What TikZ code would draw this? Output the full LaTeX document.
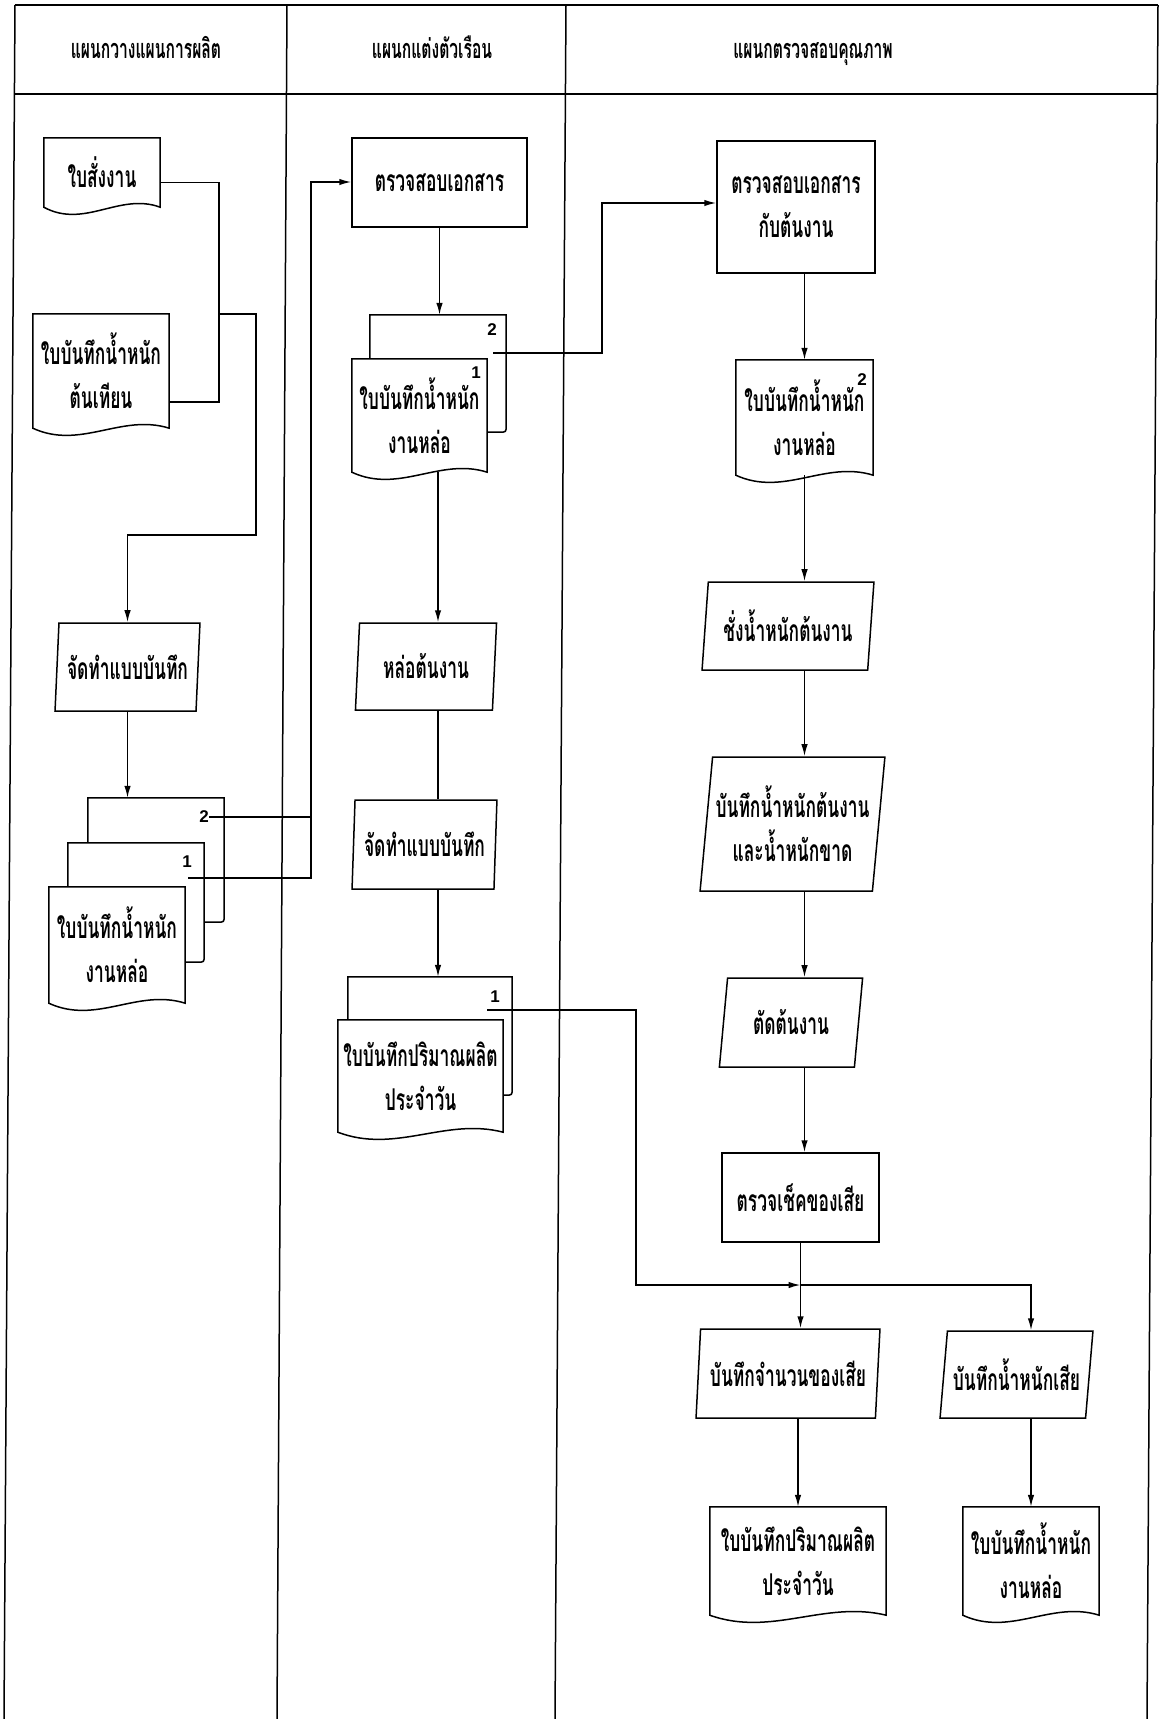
\documentclass[tikz,border=0pt]{standalone}
\usepackage{fontspec}
\usetikzlibrary{shapes.geometric,arrows.meta,calc}
\newfontfamily\thaifont[Script=Thai,FakeStretch=0.58]{Loma}
\newfontfamily\numfont{Liberation Sans}
\newcommand\DocOutline[1]{\draw[ln] (#1.north west) -- (#1.north east) -- (#1.south east) .. controls ($(#1.south east)!0.35!(#1.south west)+(0,-15)$) and ($(#1.south west)!0.35!(#1.south east)+(0,22)$) .. (#1.south west) -- cycle;}
\newcommand\BackPage[2]{\draw[ln] (#1.north west |- #2.north) -- (#1.north west) -- (#1.north east) -- ([yshift=7pt]#1.south east) .. controls (#1.south east) .. ([xshift=-7pt]#1.south east) -- (#1.south east -| #2.east);}
\begin{document}
\begin{tikzpicture}[x=1pt,y=-1pt,
  ln/.style={line width=1.5pt},
  arr/.style={ln,-{Latex[length=12pt,width=6.5pt]}},
  tx/.style={font=\thaifont\bfseries\fontsize{30}{44}\selectfont, align=center, inner sep=0pt, rectangle},
  hd/.style={font=\thaifont\bfseries\fontsize{27}{30}\selectfont, inner sep=0pt, anchor=base},
  bx/.style={tx, draw, ln},
  pg/.style={rectangle, draw=none, inner sep=0pt},
  para/.style 2 args={tx, draw, ln, trapezium, trapezium stretches=true, trapezium left angle=#1, trapezium right angle=#2},
  num/.style={font=\numfont\bfseries\fontsize{17}{17}\selectfont, inner sep=0pt}]
\useasboundingbox (0,0) rectangle (1160,1719);
% frame and lanes
\draw[ln] (15,5) -- (1158,5);
\draw[ln] (15,94) -- (1158,94);
\draw[ln] (15,5) -- (4,1719);
\draw[ln] (1158,5) -- (1147,1719);
\draw[ln] (287,5) -- (277,1719);
\draw[ln] (566,5) -- (555,1719);
\node[hd] (H1) at (146,58) {แผนกวางแผนการผลิต};
\node[hd] (H2) at (432,58) {แผนกแต่งตัวเรือน};
\node[hd] (H3) at (813,58) {แผนกตรวจสอบคุณภาพ};
% left lane
\node[tx, minimum width=116, minimum height=69] (L1) at (102,172.5) {ใบสั่งงาน};
\DocOutline{L1}
\node[tx, minimum width=136, minimum height=114] (L2) at (101,371) {ใบบันทึกน้ำหนัก\\ต้นเทียน};
\DocOutline{L2}
\node[para={82}{98}, minimum width=145, minimum height=88] (L3) at (127.5,667) {จัดทำแบบบันทึก};
\node[pg, minimum width=136, minimum height=124] (LB2) at (156,860) {};
\node[pg, minimum width=136, minimum height=119] (LB1) at (136,902.5) {};
\node[tx, minimum width=136, minimum height=116] (LF) at (117,945) {ใบบันทึกน้ำหนัก\\งานหล่อ};
\BackPage{LB2}{LB1}
\BackPage{LB1}{LF}
\DocOutline{LF}
\node[num] (LN2) at (204,817) {2};
\node[num] (LN1) at (187,862) {1};
\coordinate (LC1) at (188,878);
\coordinate (LV) at (311,182);
\coordinate (JL) at (219,314);
\coordinate (LT) at (256,535);
% middle lane
\node[bx, minimum width=175, minimum height=89] (M1) at (439.5,182.5) {ตรวจสอบเอกสาร};
\node[pg, minimum width=136, minimum height=117] (MB2) at (438,373.5) {};
\node[tx, minimum width=135, minimum height=113] (MF2) at (419.5,415.5) {ใบบันทึกน้ำหนัก\\งานหล่อ};
\BackPage{MB2}{MF2}
\DocOutline{MF2}
\node[num] (MN2) at (492,330) {2};
\node[num] (MN1) at (476,373) {1};
\coordinate (MC2) at (493,353);
\coordinate (MR) at (602,203);
\node[para={84}{96}, minimum width=142, minimum height=87] (M3) at (426,666.5) {หล่อต้นงาน};
\node[para={84}{96}, minimum width=145, minimum height=89] (M4) at (424.5,844.5) {จัดทำแบบบันทึก};
\node[pg, minimum width=164, minimum height=118] (MB5) at (430,1036) {};
\node[tx, minimum width=165, minimum height=112] (MF5) at (420.5,1076) {ใบบันทึกปริมาณผลิต\\ประจำวัน};
\BackPage{MB5}{MF5}
\DocOutline{MF5}
\node[num] (MN5) at (495,997) {1};
\coordinate (MC5) at (487,1010);
\coordinate (MJ) at (636,1285);
% right lane
\node[bx, minimum width=158, minimum height=132] (R1) at (796,207) {ตรวจสอบเอกสาร\\กับต้นงาน};
\node[tx, minimum width=137, minimum height=115] (R2) at (804.5,417.5) {ใบบันทึกน้ำหนัก\\งานหล่อ};
\DocOutline{R2}
\node[num] (RN2) at (862,380) {2};
\node[para={81}{99}, minimum width=172, minimum height=88] (R3) at (788,626) {ชั่งน้ำหนักต้นงาน};
\node[para={81}{99}, minimum width=185, minimum height=134] (R4) at (792.5,824) {บันทึกน้ำหนักต้นงาน\\และน้ำหนักขาด};
\node[para={79}{101}, minimum width=144, minimum height=89] (R5) at (791,1022.5) {ตัดต้นงาน};
\node[bx, minimum width=157, minimum height=89] (R6) at (800.5,1197.5) {ตรวจเช็คของเสีย};
\node[para={81}{99}, minimum width=184, minimum height=89] (R7) at (788,1373.5) {บันทึกจำนวนของเสีย};
\node[para={78}{102}, minimum width=153, minimum height=87] (R8) at (1016.5,1374.5) {บันทึกน้ำหนักเสีย};
\node[tx, minimum width=176, minimum height=108] (R9) at (798,1561) {ใบบันทึกปริมาณผลิต\\ประจำวัน};
\DocOutline{R9}
\node[tx, minimum width=136, minimum height=108] (R10) at (1031,1561) {ใบบันทึกน้ำหนัก\\งานหล่อ};
\DocOutline{R10}
% connectors
\draw[ln] ([yshift=-10pt]L1.east) -| (JL) |- ([yshift=-31pt]L2.east);
\draw[arr] (JL) -| (LT) -| (L3.north);
\draw[arr] (L3.south) -- (L3.south |- LB2.north);
\draw[ln] (LN2.east) -- (LN2.east -| LV);
\draw[arr] (LC1) -| (LV) -- (LV -| M1.west);
\draw[arr] (M1.south) -- (M1.south |- MB2.north);
\draw[arr] (MF2.south -| MB2.north) -- (MB2.north |- M3.north);
\draw[ln] (M3.south -| MB2.north) -- (MB2.north |- M4.north);
\draw[arr] (M4.south -| MB2.north) -- (MB2.north |- MB5.north);
\draw[arr] (MC2) -| (MR) -- (MR -| R1.west);
\draw[arr] (R1.south -| R2.north) -- (R2.north);
\draw[arr] (R2.south) -- (R2.south |- R3.north);
\draw[arr] (R3.south -| R2.south) -- (R2.south |- R4.north);
\draw[arr] (R4.south -| R2.south) -- (R2.south |- R5.north);
\draw[arr] (R5.south -| R2.south) -- (R2.south |- R6.north);
\draw[arr] (R6.south) -- (R6.south |- R7.north);
\draw[arr] (MC5) -| (MJ) -- (MJ -| R6.south);
\draw[arr] (MJ -| R6.south) -| (R8.north -| R10.north);
\draw[arr] (R7.south -| R9.north) -- (R9.north);
\draw[arr] (R8.south -| R10.north) -- (R10.north);
\end{tikzpicture}
\end{document}
